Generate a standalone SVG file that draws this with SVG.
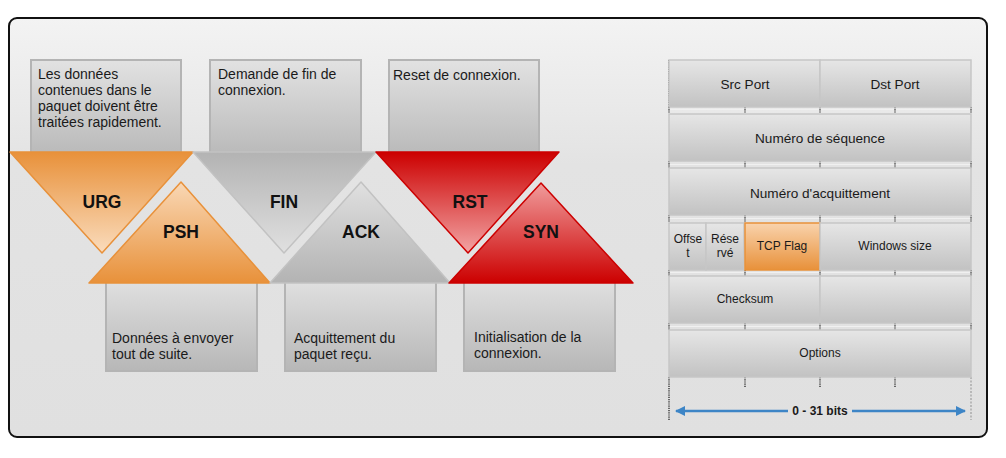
<svg xmlns="http://www.w3.org/2000/svg" width="1006" height="458" viewBox="0 0 1006 458">
<defs>
<linearGradient id="bg" x1="0" y1="0" x2="0" y2="1"><stop offset="0" stop-color="#f3f3f3"/><stop offset="0.35" stop-color="#e3e3e3"/><stop offset="1" stop-color="#e0e0e0"/></linearGradient>
<linearGradient id="box" x1="0" y1="0" x2="0" y2="1"><stop offset="0" stop-color="#e2e2e2"/><stop offset="1" stop-color="#b7b7b7"/></linearGradient>
<linearGradient id="cell" x1="0" y1="0" x2="0" y2="1"><stop offset="0" stop-color="#e6e6e6"/><stop offset="1" stop-color="#c2c2c2"/></linearGradient>
<linearGradient id="oDown" x1="0" y1="0" x2="0" y2="1"><stop offset="0" stop-color="#e8913a"/><stop offset="1" stop-color="#fadcbd"/></linearGradient>
<linearGradient id="oUp" x1="0" y1="0" x2="0" y2="1"><stop offset="0" stop-color="#f9d8b6"/><stop offset="1" stop-color="#e8913a"/></linearGradient>
<linearGradient id="gDown" x1="0" y1="0" x2="0" y2="1"><stop offset="0" stop-color="#b3b3b3"/><stop offset="1" stop-color="#e0e0e0"/></linearGradient>
<linearGradient id="gUp" x1="0" y1="0" x2="0" y2="1"><stop offset="0" stop-color="#e0e0e0"/><stop offset="1" stop-color="#b3b3b3"/></linearGradient>
<linearGradient id="rDown" x1="0" y1="0" x2="0" y2="1"><stop offset="0" stop-color="#cc0000"/><stop offset="1" stop-color="#f2a5a5"/></linearGradient>
<linearGradient id="rUp" x1="0" y1="0" x2="0" y2="1"><stop offset="0" stop-color="#f09c9c"/><stop offset="1" stop-color="#cc0000"/></linearGradient>
<linearGradient id="flag" x1="0" y1="0" x2="0" y2="1"><stop offset="0" stop-color="#f9d3ad"/><stop offset="1" stop-color="#e8913a"/></linearGradient>
<marker id="ah" viewBox="0 0 10 10" refX="9" refY="5" markerWidth="4" markerHeight="4.4" orient="auto-start-reverse"><path d="M0,0 L10,5 L0,10 z" fill="#3d85c6"/></marker>
</defs>
<style>
.desc{font-family:"Liberation Sans",Arial,sans-serif;font-size:14px;fill:#1a1a1a}
.lbl{font-family:"Liberation Sans",Arial,sans-serif;font-size:17.5px;font-weight:bold;fill:#111;text-anchor:middle}
.box{fill:url(#box);stroke:#b4b4b4;stroke-width:2}
.cell{fill:url(#cell);stroke:#c6c6c6;stroke-width:1.5}
.t1{font-family:"Liberation Sans",Arial,sans-serif;font-size:13.6px;fill:#1a1a1a;text-anchor:middle}
.t2{font-family:"Liberation Sans",Arial,sans-serif;font-size:12px;fill:#1a1a1a;text-anchor:middle}
.tick{stroke:#666;stroke-width:2;stroke-dasharray:1.2 1}
.gap{stroke:#f0f0f0;stroke-width:1}
</style>
<rect x="9" y="18" width="978" height="419" rx="8" fill="url(#bg)" stroke="#111" stroke-width="2"/>

<g id="box-urg"><rect class="box" x="31" y="60" width="150" height="100"/>
<text class="desc"><tspan x="38" y="79">Les données</tspan><tspan x="38" y="95">contenues dans le</tspan><tspan x="38" y="111">paquet doivent être</tspan><tspan x="38" y="127">traitées rapidement.</tspan></text></g>
<g id="box-fin"><rect class="box" x="210" y="60" width="151" height="100"/>
<text class="desc"><tspan x="218" y="79">Demande de fin de</tspan><tspan x="218" y="95">connexion.</tspan></text></g>
<g id="box-rst"><rect class="box" x="389" y="60" width="150" height="100"/>
<text class="desc"><tspan x="393" y="80">Reset de connexion.</tspan></text></g>

<g id="box-psh"><rect class="box" x="106" y="276" width="151" height="95"/>
<text class="desc"><tspan x="112" y="343">Données à envoyer</tspan><tspan x="112" y="359">tout de suite.</tspan></text></g>
<g id="box-ack"><rect class="box" x="285" y="276" width="151" height="95"/>
<text class="desc"><tspan x="294" y="343">Acquittement du</tspan><tspan x="294" y="359">paquet reçu.</tspan></text></g>
<g id="box-syn"><rect class="box" x="464" y="276" width="151" height="95"/>
<text class="desc"><tspan x="474" y="342">Initialisation de la</tspan><tspan x="474" y="358">connexion.</tspan></text></g>

<g id="urg"><polygon points="10,152 193,152 102,253" fill="url(#oDown)" stroke="#e8913a" stroke-width="1.5" stroke-linejoin="round"/><text class="lbl" x="102" y="208">URG</text></g>
<g id="fin"><polygon points="193,152 376,152 284,253" fill="url(#gDown)" stroke="#c2c2c2" stroke-width="1.5" stroke-linejoin="round"/><text class="lbl" x="284" y="208">FIN</text></g>
<g id="rst"><polygon points="376,152 559,152 468,253" fill="url(#rDown)" stroke="#cc0000" stroke-width="1.5" stroke-linejoin="round"/><text class="lbl" x="470" y="208">RST</text></g>
<g id="psh"><polygon points="89,283 270,283 181,182" fill="url(#oUp)" stroke="#e8913a" stroke-width="1.5" stroke-linejoin="round"/><text class="lbl" x="181" y="238">PSH</text></g>
<g id="ack"><polygon points="270,283 450,283 361,182" fill="url(#gUp)" stroke="#c2c2c2" stroke-width="1.5" stroke-linejoin="round"/><text class="lbl" x="361" y="238">ACK</text></g>
<g id="syn"><polygon points="449,283 633,283 541,183" fill="url(#rUp)" stroke="#cc0000" stroke-width="1.5" stroke-linejoin="round"/><text class="lbl" x="541" y="238">SYN</text></g>

<g id="tcp-header">
<g id="ticks">
<line class="tick" x1="669" y1="60" x2="669" y2="107"/>
<g class="rowticks">
<line class="gap" x1="669" y1="109.5" x2="971" y2="109.5"/>
<line class="gap" x1="669" y1="164.5" x2="971" y2="164.5"/>
<line class="gap" x1="669" y1="218.5" x2="971" y2="218.5"/>
<line class="gap" x1="669" y1="272.5" x2="971" y2="272.5"/>
<line class="gap" x1="669" y1="326.5" x2="971" y2="326.5"/>
</g>
<path class="tick" d="M669,107v6M745,107v6M820,107v6M895,107v6M971,107v6
M669,161v7M745,161v7M820,161v7M895,161v7M971,161v7
M669,215v7M745,215v7M820,215v7M895,215v7M971,215v7
M669,270v6M745,270v6M820,270v6M895,270v6M971,270v6
M669,323v7M745,323v7M820,323v7M895,323v7M971,323v7"/>
<line class="tick" x1="669" y1="377" x2="669" y2="420"/>
<line class="tick" x1="745" y1="377" x2="745" y2="388"/>
<line class="tick" x1="820" y1="377" x2="820" y2="388"/>
<line class="tick" x1="895" y1="377" x2="895" y2="388"/>
<line x1="971" y1="377" x2="971" y2="420" stroke="#aaa" stroke-width="1.5" stroke-dasharray="2 1.5"/>
</g>
<g id="row1"><rect class="cell" x="669" y="60" width="151" height="47"/><rect class="cell" x="820" y="60" width="151" height="47"/>
<text class="t1" x="745" y="89">Src Port</text><text class="t1" x="895" y="89">Dst Port</text></g>
<g id="row2"><rect class="cell" x="669" y="114" width="302" height="47"/><text class="t1" x="820" y="143">Numéro de séquence</text></g>
<g id="row3"><rect class="cell" x="669" y="168" width="302" height="47"/><text class="t1" x="820" y="198">Numéro d'acquittement</text></g>
<g id="row4">
<rect class="cell" x="669" y="223" width="37" height="47"/>
<rect class="cell" x="706" y="223" width="38" height="47"/>
<rect x="745" y="223" width="75" height="47" fill="url(#flag)" stroke="#e8913a" stroke-width="1.5"/>
<rect class="cell" x="820" y="223" width="151" height="47"/>
<text class="t2"><tspan x="688" y="243">Offse</tspan><tspan x="688" y="257">t</tspan></text>
<text class="t2"><tspan x="725" y="243">Rése</tspan><tspan x="725" y="257">rvé</tspan></text>
<text class="t2" x="782" y="250">TCP Flag</text>
<text class="t2" x="895" y="250">Windows size</text></g>
<g id="row5"><rect class="cell" x="669" y="276" width="151" height="47"/><rect class="cell" x="820" y="276" width="151" height="47"/><text class="t2" x="745" y="303">Checksum</text></g>
<g id="row6"><rect class="cell" x="669" y="330" width="302" height="47"/><text class="t2" x="820" y="357">Options</text></g>
</g>

<g id="connectors">
<line x1="788" y1="411" x2="676" y2="411" stroke="#3d85c6" stroke-width="2.5" marker-end="url(#ah)"/>
<line x1="852" y1="411" x2="965" y2="411" stroke="#3d85c6" stroke-width="2.5" marker-end="url(#ah)"/>
<text x="820" y="415" font-family="Liberation Sans, Arial, sans-serif" font-size="12" font-weight="bold" fill="#1a1a1a" text-anchor="middle">0 - 31 bits</text>
</g>
</svg>
